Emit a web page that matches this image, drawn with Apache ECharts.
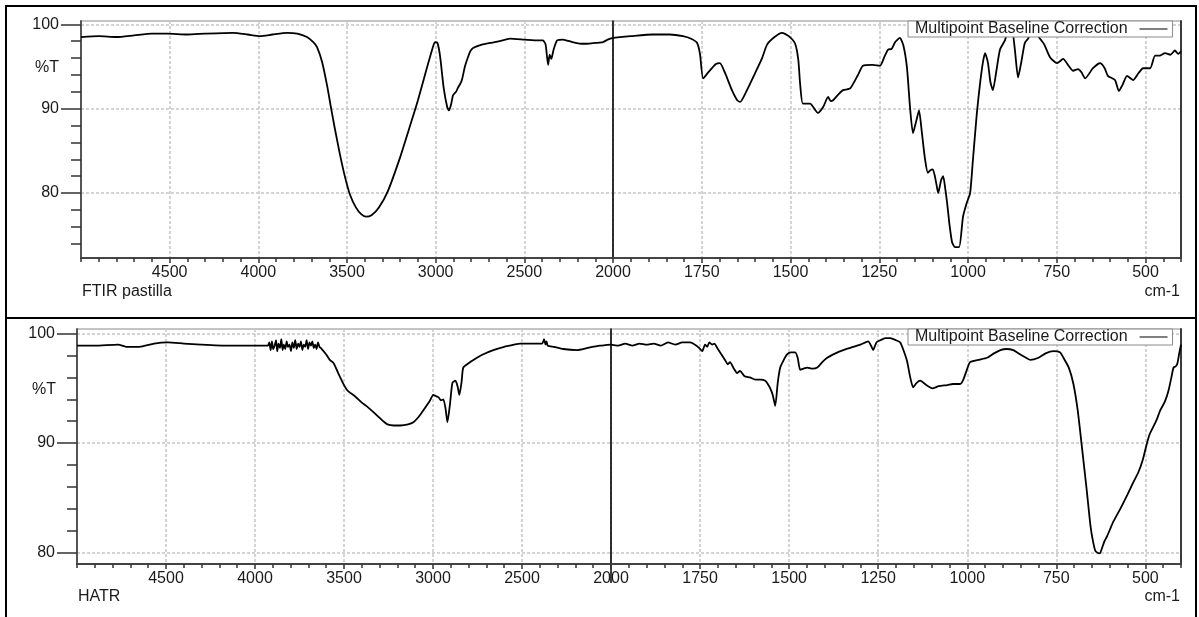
<!DOCTYPE html>
<html>
<head>
<meta charset="utf-8">
<title>FTIR pastilla / HATR</title>
<script src="https://cdn.jsdelivr.net/npm/echarts@6.0.0/dist/echarts.min.js"></script>
<style>
  html, body { margin: 0; padding: 0; background: #fff; }
  #chart { width: 1199px; height: 617px; }
</style>
</head>
<body>
<div id="chart"></div>
<script>
// upper spectrum: FTIR pastilla (wavenumber cm-1 / %T)
const ftirWn = [
  5000, 4900, 4800, 4700, 4600, 4515, 4400, 4300, 4143, 4060, 3990, 3920, 3838, 3780, 3726, 3690,
  3669, 3640, 3610, 3596, 3570, 3539, 3510, 3483, 3450, 3420, 3393, 3360, 3320, 3270, 3201, 3150,
  3100, 3050, 3020, 3004, 2990, 2975, 2955, 2935, 2925, 2912, 2902, 2885, 2874, 2860, 2851, 2835,
  2823, 2805, 2789, 2740, 2694, 2640, 2581, 2500, 2420, 2395, 2380, 2366, 2357, 2348, 2335, 2315,
  2282, 2230, 2180, 2147, 2100, 2056, 2030, 2000,
  1950, 1887, 1840, 1803, 1780, 1763, 1755, 1746, 1730, 1710, 1699, 1685, 1665, 1650, 1642, 1625,
  1600, 1580, 1566, 1545, 1524, 1505, 1487, 1478, 1473, 1465, 1445, 1423, 1408, 1394, 1387, 1380,
  1365, 1352, 1332, 1310, 1296, 1270, 1248, 1235, 1225, 1215, 1205, 1192, 1182, 1172, 1163, 1155,
  1146, 1138, 1130, 1121, 1113, 1106, 1099, 1090, 1084, 1076, 1070, 1064, 1059, 1052, 1045, 1037,
  1025, 1014, 1003, 994, 986, 975, 966, 958, 952, 944, 937, 930, 920, 910, 896, 886,
  876, 868, 859, 850, 840, 831, 817, 797, 785, 769, 749, 732, 715, 704, 690, 680,
  670, 648, 628, 615, 606, 586, 575, 565, 552, 535, 520, 507, 487, 473, 459, 445,
  430, 417, 408, 400
]
const ftirT = [
  98.5, 98.6, 98.5, 98.7, 98.9, 98.9, 98.8, 98.9, 99.0, 98.8, 98.6, 98.8, 99.0, 98.9, 98.5, 97.9,
  97.3, 95.5, 92.5, 90.8, 87.8, 84.5, 81.8, 79.8, 78.3, 77.5, 77.2, 77.4, 78.3, 80.2, 84.2, 87.6,
  91.0, 94.8, 97.0, 97.9, 97.8, 96.2, 92.5, 90.2, 89.8, 90.6, 91.6, 92.0, 92.5, 93.0, 93.5, 95.0,
  95.8, 96.8, 97.2, 97.6, 97.8, 98.0, 98.3, 98.2, 98.1, 98.1, 97.6, 95.2, 96.4, 95.9, 97.0, 98.1,
  98.2, 97.9, 97.7, 97.7, 97.8, 97.9, 98.2, 98.4,
  98.6, 98.8, 98.8, 98.6, 98.3, 97.8, 96.5, 93.6, 94.4, 95.3, 95.4, 94.3, 92.2, 91.0, 90.8, 92.0,
  94.2, 96.0, 97.6, 98.5, 99.0, 98.6, 97.7, 95.8, 93.0, 90.6, 90.6, 89.5, 90.2, 91.4, 90.9, 91.0,
  91.7, 92.2, 92.4, 94.0, 95.1, 95.2, 95.1, 96.2, 97.0, 97.1, 97.9, 98.4, 97.5, 94.9, 90.0, 87.1,
  88.5, 89.8, 87.2, 84.0, 82.4, 82.7, 82.8, 81.3, 80.0, 81.5, 82.0, 80.5, 78.9, 76.2, 74.2, 73.6,
  73.6, 77.2, 78.9, 80.0, 84.0, 89.5, 93.0, 95.5, 96.6, 95.5, 93.2, 92.2, 94.5, 97.0, 98.1, 99.3,
  99.3, 97.0, 93.7, 95.5, 97.8, 98.3, 99.3, 98.3, 97.6, 96.1, 95.4, 95.9, 95.0, 94.5, 94.7, 94.3,
  93.6, 94.8, 95.4, 94.8, 93.9, 93.4, 92.1, 92.8, 93.9, 93.4, 94.2, 94.8, 94.8, 96.3, 96.3, 96.6,
  96.4, 96.9, 96.5, 96.8
]

// lower spectrum: HATR
const hatrWn = [
  5000, 4900, 4769, 4724, 4650, 4567, 4489, 4400, 4304, 4150, 4007, 3960, 3928,
  3920, 3912, 3905, 3898, 3890, 3882, 3875, 3868, 3860, 3852, 3845, 3838, 3830, 3822, 3815, 3806,
  3798, 3790, 3782, 3774, 3766, 3758, 3750, 3742, 3734, 3726, 3718, 3710, 3702, 3694, 3686, 3678,
  3670, 3662, 3654, 3646, 3638, 3631,
  3600, 3580, 3558, 3530, 3500, 3480, 3440, 3400, 3368, 3320, 3280, 3256, 3220, 3183, 3140, 3110,
  3080, 3054, 3020, 2998, 2985, 2970, 2955, 2942, 2930, 2919, 2905, 2891, 2874, 2862, 2852, 2840,
  2830, 2800, 2773, 2720, 2661, 2600, 2510, 2420, 2387, 2380, 2376, 2368, 2362, 2355, 2320, 2269,
  2191, 2130, 2062, 2000,
  1980, 1960, 1940, 1920, 1900, 1880, 1860, 1840, 1820, 1800, 1778, 1760, 1750, 1744, 1736, 1730,
  1724, 1716, 1710, 1700, 1690, 1680, 1672, 1666, 1655, 1646, 1638, 1625, 1610, 1595, 1580, 1567,
  1560, 1553, 1546, 1539, 1532, 1525, 1515, 1506, 1495, 1483, 1476, 1469, 1460, 1449, 1435, 1421,
  1407, 1393, 1370, 1348, 1320, 1300, 1278, 1270, 1264, 1255, 1244, 1230, 1216, 1200, 1188, 1178,
  1169, 1160, 1152, 1142, 1132, 1115, 1098, 1080, 1056, 1040, 1020, 1011, 1000, 992, 970, 944,
  925, 907, 890, 871, 851, 835, 823, 800, 780, 758, 740, 730, 715, 702, 690, 677,
  665, 654, 647, 640, 630, 626, 615, 607, 590, 570, 550, 534, 520, 507, 497, 488,
  470, 458, 445, 435, 427, 421, 415, 410, 405, 400
]
const hatrT = [
  98.9, 98.9, 99.0, 98.8, 98.8, 99.1, 99.2, 99.1, 99.0, 98.9, 98.9, 98.9, 98.9,
  99.2, 98.5, 99.3, 98.6, 98.9, 99.4, 98.4, 99.1, 98.7, 99.5, 98.5, 99.0, 98.6, 99.3, 98.8, 99.0,
  98.4, 99.2, 98.7, 99.4, 98.6, 99.1, 98.8, 99.3, 98.5, 99.0, 98.8, 99.4, 98.6, 99.2, 98.9, 99.3,
  98.7, 99.0, 98.6, 99.2, 98.8, 98.7,
  98.1, 97.6, 97.3, 96.3, 95.3, 94.8, 94.3, 93.7, 93.3, 92.6, 92.0, 91.7, 91.6, 91.6, 91.7, 91.9,
  92.4, 93.0, 93.8, 94.4, 94.3, 94.2, 93.9, 94.0, 93.2, 91.9, 93.5, 95.5, 95.7, 95.2, 94.4, 95.5,
  96.9, 97.3, 97.6, 98.1, 98.5, 98.8, 99.1, 99.1, 99.1, 99.3, 99.5, 99.0, 99.3, 98.9, 98.8, 98.6,
  98.5, 98.7, 98.9, 99.0,
  98.9, 99.1, 98.9, 99.1, 99.0, 99.1, 98.9, 99.2, 99.0, 99.2, 99.2, 98.9, 98.6, 98.4, 99.0, 98.8,
  99.2, 99.0, 99.1, 98.6, 98.1, 97.6, 97.2, 97.4, 96.8, 96.4, 96.6, 96.1, 96.0, 95.8, 95.8, 95.7,
  95.4, 95.0, 94.4, 93.4, 95.5, 96.9, 97.6, 98.1, 98.3, 98.3, 97.8, 96.7, 96.8, 96.9, 96.8, 96.9,
  97.4, 97.8, 98.2, 98.5, 98.8, 99.0, 99.3, 98.9, 98.5, 99.2, 99.4, 99.6, 99.6, 99.4, 99.2, 98.4,
  97.5, 96.0, 95.1, 95.5, 95.7, 95.3, 95.0, 95.2, 95.3, 95.4, 95.4, 95.8, 96.8, 97.4, 97.6, 97.8,
  98.2, 98.5, 98.6, 98.5, 98.1, 97.8, 97.6, 97.8, 98.2, 98.4, 98.3, 97.8, 96.9, 95.4, 93.0, 89.3,
  85.8, 82.4, 81.0, 80.1, 79.9, 80.0, 81.0, 81.5, 82.8, 84.0, 85.3, 86.4, 87.3, 88.5, 89.8, 90.8,
  92.0, 93.0, 93.8, 94.8, 96.0, 96.9, 97.0, 97.3, 98.2, 99.0
]

// tick values
const rightXTicks = [500, 750, 1000, 1250, 1500, 1750, 2000]
const yMajorTicks = [80, 90, 100]
const ftirYMinor = [74, 76, 78, 82, 84, 86, 88, 92, 94, 96, 98]
const hatrYMinor = [82, 84, 86, 88, 92, 94, 96, 98]

const legendName = 'Multipoint Baseline Correction'
const panelTitles = ['FTIR pastilla', 'HATR']

const FONT = "'Liberation Sans', Arial, sans-serif"
const TEXT = '#1a1a1a'
const gridLine = { show: true, lineStyle: { color: '#c6c6c6', width: 1.5, type: [3, 2] } }
const tickStyle = { color: '#333', width: 1.5 }
// plain numbers, no thousands separator
const labelStyle = { fontSize: 16, fontFamily: FONT, color: TEXT, formatter: v => String(v) }

// keep only the points that belong to one side of the 2000 cm-1 break
function pairs (wn, t, keep) {
  const out = []
  wn.forEach((w, i) => {
    if (keep(w)) out.push([w, t[i]])
  })
  return out
}

const panels = [
  {
    wn: ftirWn, t: ftirT, yMin: 72.3, yMax: 100.4, yMinor: ftirYMinor,
    left: { left: 81, top: 21, width: 532, height: 237 },
    right: { left: 613, top: 21, width: 568, height: 237 },
    legendTop: 21
  },
  {
    wn: hatrWn, t: hatrT, yMin: 78.93, yMax: 100.43, yMinor: hatrYMinor,
    left: { left: 77, top: 329, width: 534, height: 235 },
    right: { left: 611, top: 329, width: 570, height: 235 },
    legendTop: 329
  }
]

const grid = []
const xAxis = []
const yAxis = []
const series = []
const legend = []

panels.forEach((p, n) => {
  const gl = n * 2
  const gr = gl + 1
  const xi = n * 4
  const yi = n * 4
  const frame = { show: true, borderColor: '#8a8a8a', borderWidth: 1, backgroundColor: 'transparent' }
  grid.push(Object.assign({}, p.left, frame), Object.assign({}, p.right, frame))

  // left half 5000..2000, right half 2000..400 (different scale)
  xAxis.push(
    {
      gridIndex: gl, type: 'value', position: 'bottom', inverse: true, min: 2000, max: 5000, interval: 100,
      axisLine: { onZero: false, lineStyle: { color: '#444', width: 2 } },
      axisTick: { length: 4, lineStyle: tickStyle },
      axisLabel: { show: false }, splitLine: { show: false }
    },
    {
      gridIndex: gl, type: 'value', position: 'bottom', inverse: true, min: 2000, max: 5000, interval: 500,
      axisLine: { show: false, onZero: false },
      axisTick: { length: 5, lineStyle: tickStyle },
      axisLabel: Object.assign({ showMinLabel: false, showMaxLabel: false, margin: 7 }, labelStyle),
      splitLine: gridLine
    },
    {
      gridIndex: gr, type: 'value', position: 'bottom', inverse: true, min: 400, max: 2000, interval: 50,
      axisLine: { onZero: false, lineStyle: { color: '#444', width: 2 } },
      axisTick: { length: 4, lineStyle: tickStyle },
      axisLabel: { show: false }, splitLine: { show: false }
    },
    {
      gridIndex: gr, type: 'value', position: 'bottom', inverse: true, min: 400, max: 2000,
      axisLine: { show: false, onZero: false },
      axisTick: { length: 5, customValues: rightXTicks, lineStyle: tickStyle },
      axisLabel: Object.assign({ customValues: rightXTicks, margin: 7 }, labelStyle),
      splitLine: gridLine
    }
  )

  yAxis.push(
    {
      gridIndex: gl, type: 'value', position: 'left', min: p.yMin, max: p.yMax,
      axisLine: { show: true, onZero: false, lineStyle: { color: '#555', width: 2 } },
      axisTick: { customValues: yMajorTicks, length: 20, lineStyle: tickStyle },
      axisLabel: Object.assign({ customValues: yMajorTicks, margin: 22 }, labelStyle),
      splitLine: gridLine
    },
    {
      gridIndex: gl, type: 'value', position: 'left', min: p.yMin, max: p.yMax,
      axisLine: { show: false },
      axisTick: { customValues: p.yMinor, length: 10, lineStyle: tickStyle },
      axisLabel: { show: false }, splitLine: { show: false }
    },
    {
      gridIndex: gr, type: 'value', position: 'left', min: p.yMin, max: p.yMax,
      axisLine: { show: true, onZero: false, lineStyle: { color: '#000', width: 1.5 } },
      axisTick: { show: false, customValues: yMajorTicks },
      axisLabel: { show: false },
      splitLine: gridLine
    },
    {
      gridIndex: gr, type: 'value', position: 'right', min: p.yMin, max: p.yMax,
      axisLine: { show: true, onZero: false, lineStyle: { color: '#3a3a3a', width: 2 } },
      axisTick: { show: false }, axisLabel: { show: false }, splitLine: { show: false }
    }
  )

  const lineOpts = {
    type: 'line', name: legendName, showSymbol: false, symbol: 'none', smooth: 0.2,
    lineStyle: { color: '#000', width: 1.8 }, itemStyle: { color: '#000' }, silent: true
  }
  series.push(
    Object.assign({}, lineOpts, { xAxisIndex: xi, yAxisIndex: yi, data: pairs(p.wn, p.t, w => w >= 2000) }),
    Object.assign({}, lineOpts, { xAxisIndex: xi + 2, yAxisIndex: yi + 2, data: pairs(p.wn, p.t, w => w <= 2000) })
  )

  legend.push({
    left: 908, top: p.legendTop, align: 'right', orient: 'horizontal',
    padding: [0, 5, 0, 7], itemWidth: 28, itemHeight: 2, itemGap: 0,
    backgroundColor: '#fff', borderColor: '#8a8a8a', borderWidth: 1, borderRadius: 0,
    selectedMode: false,
    data: [{ name: legendName, icon: 'rect', itemStyle: { color: '#808080' } }],
    textStyle: { padding: [0, 7, 0, 0], fontSize: 16, fontFamily: FONT, color: TEXT }
  })
})

const textOf = (text, x, y, align) => ({
  type: 'text', x: x, y: y, silent: true,
  style: { text: text, font: '16px ' + FONT, fill: TEXT, align: align || 'left', verticalAlign: 'middle' }
})

const graphic = [
  { type: 'rect', silent: true, shape: { x: 6, y: 6, width: 1190, height: 312 }, style: { fill: 'none', stroke: '#000', lineWidth: 2 } },
  { type: 'rect', silent: true, shape: { x: 6, y: 318, width: 1190, height: 310 }, style: { fill: 'none', stroke: '#000', lineWidth: 2 } },
  textOf('%T', 35, 68),
  textOf(panelTitles[0], 82, 292),
  textOf('cm-1', 1180, 292, 'right'),
  textOf('%T', 32, 390),
  textOf(panelTitles[1], 78, 597),
  textOf('cm-1', 1180, 597, 'right')
]

const chart = echarts.init(document.getElementById('chart'), null, { renderer: 'canvas' })
chart.setOption({
  animation: false,
  backgroundColor: '#fff',
  textStyle: { fontFamily: FONT },
  grid: grid,
  xAxis: xAxis,
  yAxis: yAxis,
  legend: legend,
  series: series,
  graphic: graphic
})

// the 2000 break line of the lower panel runs through its label
const breakX = chart.convertToPixel({ xAxisIndex: 7 }, 2000)
const axisY = chart.convertToPixel({ yAxisIndex: 4 }, panels[1].yMin)
chart.setOption({
  graphic: graphic.concat([{
    type: 'line', silent: true,
    shape: { x1: breakX, y1: axisY, x2: breakX, y2: axisY + 19 },
    style: { stroke: '#000', lineWidth: 1.5 }
  }])
})
</script>
</body>
</html>
